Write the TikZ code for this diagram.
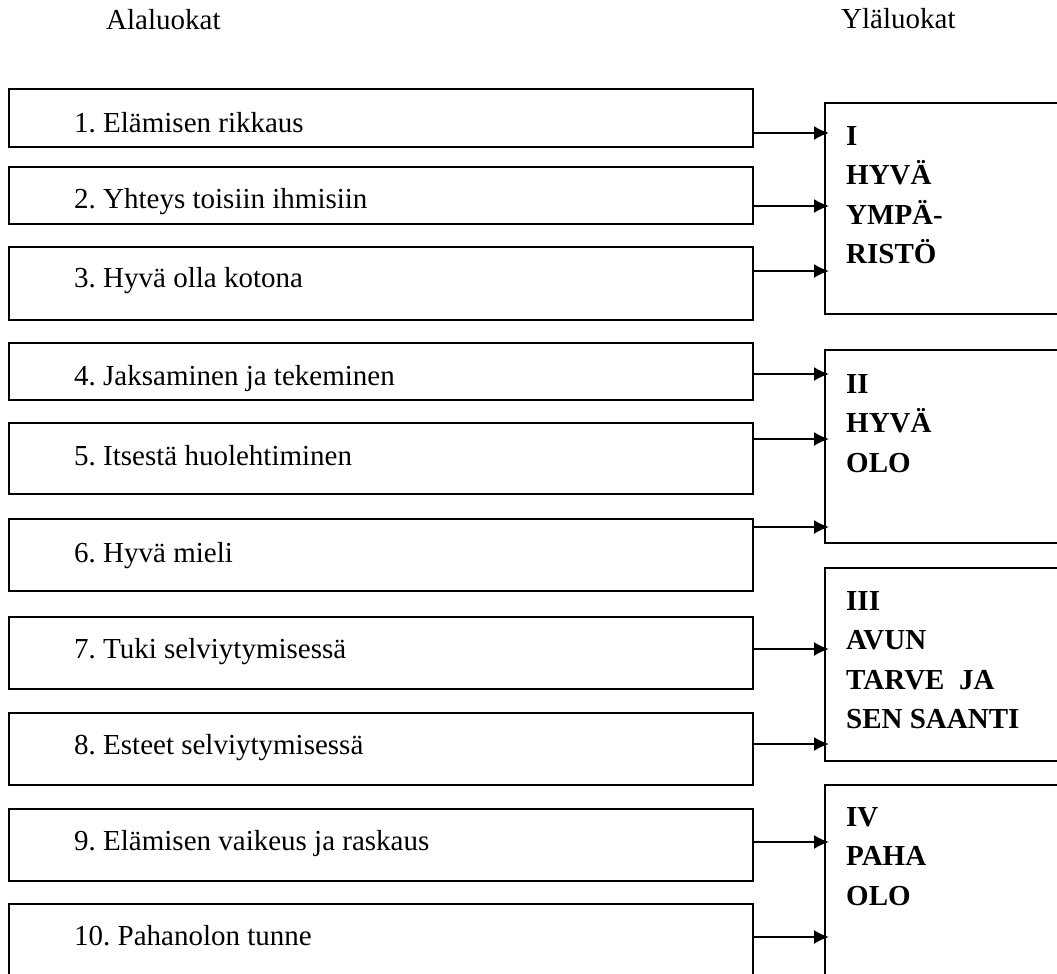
\documentclass[tikz,border=0pt]{standalone}
\usepackage{fontspec}
\setmainfont{Liberation Serif}
\usetikzlibrary{arrows.meta}
\frenchspacing
\tikzset{
  x=1pt, y=-1pt,
  lbox/.style={draw, line width=2pt, minimum width=744pt, anchor=north west, inner sep=0pt},
  rbox/.style={draw, line width=2pt, minimum width=400pt, anchor=north west, inner sep=0pt},
  itemtxt/.style={anchor=base west, inner sep=0pt, font=\fontsize{29}{35}\selectfont},
  headtxt/.style={anchor=base west, inner sep=0pt, font=\fontsize{29}{35}\selectfont},
  classtxt/.style={anchor=base west, inner sep=0pt, font=\fontsize{29}{39.5}\selectfont\bfseries},
  arr/.style={line width=2pt, shorten >=-5pt, -{Latex[length=15pt, width=14pt]}},
}
\begin{document}
\begin{tikzpicture}
\useasboundingbox (0,0) rectangle (1057,974);
\clip (0,0) rectangle (1057,974);

% column headings
\node[headtxt] (hleft) at (106,30) {Alaluokat};
\node[headtxt] (hright) at (841,29) {Yläluokat};

% subcategory boxes
\node[lbox, minimum height=58pt] (b1) at (8,88) {};
\node[lbox, minimum height=57pt] (b2) at (8,166) {};
\node[lbox, minimum height=73pt] (b3) at (8,246) {};
\node[lbox, minimum height=57pt] (b4) at (8,342) {};
\node[lbox, minimum height=71pt] (b5) at (8,422) {};
\node[lbox, minimum height=72pt] (b6) at (8,518) {};
\node[lbox, minimum height=72pt] (b7) at (8,616) {};
\node[lbox, minimum height=72pt] (b8) at (8,712) {};
\node[lbox, minimum height=72pt] (b9) at (8,808) {};
\node[lbox, minimum height=120pt] (b10) at (8,903) {};

\node[itemtxt] (t1) at (74,132) {1. Elämisen rikkaus};
\node[itemtxt] (t2) at (74,208) {2. Yhteys toisiin ihmisiin};
\node[itemtxt] (t3) at (74,287) {3. Hyvä olla kotona};
\node[itemtxt] (t4) at (74,385) {4. Jaksaminen ja tekeminen};
\node[itemtxt] (t5) at (74,465) {5. Itsestä huolehtiminen};
\node[itemtxt] (t6) at (74,562) {6. Hyvä mieli};
\node[itemtxt] (t7) at (74,658) {7. Tuki selviytymisessä};
\node[itemtxt] (t8) at (74,754) {8. Esteet selviytymisessä};
\node[itemtxt] (t9) at (74,850) {9. Elämisen vaikeus ja raskaus};
\node[itemtxt] (t10) at (74,945) {10. Pahanolon tunne};

% main category boxes
\node[rbox, minimum height=211pt] (r1) at (824,102) {};
\node[rbox, minimum height=193pt] (r2) at (824,349) {};
\node[rbox, minimum height=193pt] (r3) at (824,567) {};
\node[rbox, minimum height=250pt] (r4) at (824,784) {};

\node[classtxt] (c1) at (846,145) {\begin{tabular}[t]{@{}l@{}}I\\HYVÄ\\YMPÄ-\\RISTÖ\end{tabular}};
\node[classtxt] (c2) at (846,393) {\begin{tabular}[t]{@{}l@{}}II\\HYVÄ\\OLO\end{tabular}};
\node[classtxt] (c3) at (846,610) {\begin{tabular}[t]{@{}l@{}}III\\AVUN\\TARVE\ \ JA\\SEN SAANTI\end{tabular}};
\node[classtxt] (c4) at (846,826) {\begin{tabular}[t]{@{}l@{}}IV\\PAHA\\OLO\end{tabular}};

% arrow heights
\coordinate (y1) at (0,133);
\coordinate (y2) at (0,206);
\coordinate (y3) at (0,271);
\coordinate (y4) at (0,374);
\coordinate (y5) at (0,439);
\coordinate (y6) at (0,527);
\coordinate (y7) at (0,649);
\coordinate (y8) at (0,744);
\coordinate (y9) at (0,842);
\coordinate (y10) at (0,937);

% connectors
\draw[arr] (b1.east |- y1) -- (r1.west |- y1);
\draw[arr] (b2.east |- y2) -- (r1.west |- y2);
\draw[arr] (b3.east |- y3) -- (r1.west |- y3);
\draw[arr] (b4.east |- y4) -- (r2.west |- y4);
\draw[arr] (b5.east |- y5) -- (r2.west |- y5);
\draw[arr] (b6.east |- y6) -- (r2.west |- y6);
\draw[arr] (b7.east |- y7) -- (r3.west |- y7);
\draw[arr] (b8.east |- y8) -- (r3.west |- y8);
\draw[arr] (b9.east |- y9) -- (r4.west |- y9);
\draw[arr] (b10.east |- y10) -- (r4.west |- y10);
\end{tikzpicture}
\end{document}
